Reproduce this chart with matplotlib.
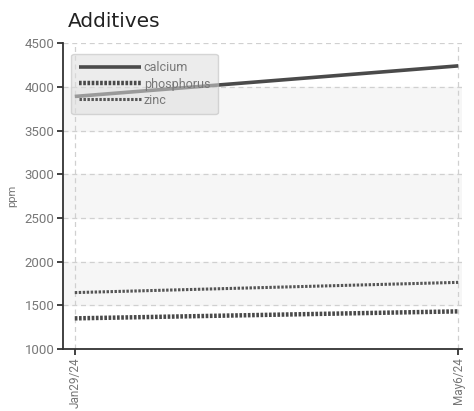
import matplotlib
matplotlib.use('Agg')
import matplotlib.pyplot as plt
import datetime

dates = [datetime.date(2024, 1, 29), datetime.date(2024, 5, 6)]
calcium = [3890, 4240]
phosphorus = [1350, 1430]
zinc = [1645, 1762]
tick_labels = ['Jan29/24', 'May6/24']

plt.rcParams['font.family'] = ['Roboto', 'DejaVu Sans']

fig = plt.figure(figsize=(4.74, 4.11), dpi=100)
ax = fig.add_axes([0.133, 0.151, 0.842, 0.744])

# alternating bands
for lo in (1500, 2500, 3500):
    ax.axhspan(lo, lo + 500, color='#f6f6f6', zorder=0)

ax.plot(dates, calcium, color='#4a4a4a', lw=2.6, solid_capstyle='butt', label='calcium', zorder=3)
ax.plot(dates, phosphorus, color='#4a4a4a', lw=3.2, linestyle=(0, (0.6, 0.35)), label='phosphorus', zorder=3)
ax.plot(dates, zinc, color='#555555', lw=2.2, linestyle=(0, (0.8, 0.5)), label='zinc', zorder=3)

ax.set_ylim(1000, 4500)
ax.set_yticks(range(1000, 4501, 500))
ax.set_xlim(dates[0] - datetime.timedelta(days=3.1), dates[1] + datetime.timedelta(days=1.3))
ax.set_xticks(dates)
ax.set_xticklabels(tick_labels, rotation=90, fontsize=8.5)

ax.grid(True, linestyle=(0, (4, 3)), color='#d0d0d0', lw=0.9)
ax.set_axisbelow(True)
for s in ('top', 'right'):
    ax.spines[s].set_visible(False)
for s in ('left', 'bottom'):
    ax.spines[s].set_color('#333333')
    ax.spines[s].set_linewidth(1.3)
ax.tick_params(colors='#333333', labelcolor='#777777', length=4, width=1.3, pad=2)
ax.tick_params(axis='y', labelsize=9.5)

ax.set_ylabel('ppm', color='#777777', fontsize=8)
ax.yaxis.set_label_coords(-0.115, 0.5)

fig.text(0.143, 0.935, 'Additives', fontsize=14.5, color='#222222', family='DejaVu Sans')

leg = ax.legend(loc='upper left', bbox_to_anchor=(0.005, 0.985), fontsize=9, handlelength=5.0,
                handletextpad=0.2, labelspacing=0.25, fancybox=True, framealpha=0.55,
                borderpad=0.6)
leg.get_frame().set_facecolor('#dddddd')
leg.get_frame().set_edgecolor('#bbbbbb')
for t in leg.get_texts():
    t.set_color('#777777')

plt.savefig('out.png', dpi=100)
